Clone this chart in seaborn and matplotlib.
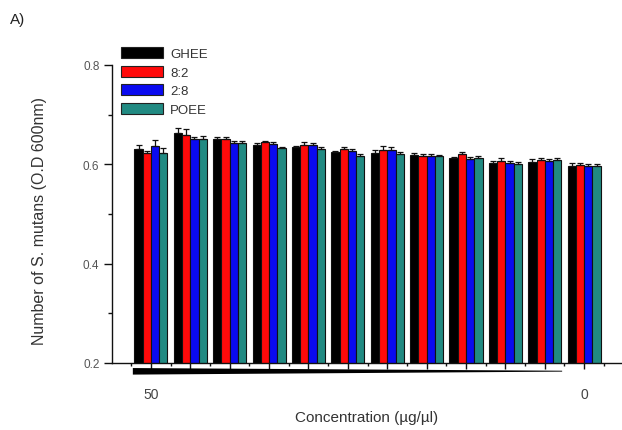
import matplotlib
matplotlib.use("Agg")
import matplotlib.pyplot as plt
import matplotlib.transforms as mtransforms
from matplotlib.patches import Polygon
from matplotlib.ticker import MultipleLocator, FixedLocator
import numpy as np
import pandas as pd
import seaborn as sns

# ---- data ----
groups = ["c%d" % i for i in range(1, 13)]
tick_labels = ["50", "", "", "", "", "", "", "", "", "", "", "0"]
series = ["GHEE", "8:2", "2:8", "POEE"]
ghee = [0.631, 0.663, 0.650, 0.639, 0.634, 0.624, 0.623, 0.619, 0.612, 0.603, 0.604, 0.596]
r82 = [0.622, 0.660, 0.651, 0.644, 0.639, 0.631, 0.629, 0.617, 0.621, 0.607, 0.609, 0.599]
r28 = [0.636, 0.651, 0.642, 0.640, 0.639, 0.627, 0.629, 0.617, 0.611, 0.602, 0.607, 0.597]
poee = [0.622, 0.651, 0.642, 0.633, 0.631, 0.617, 0.620, 0.616, 0.612, 0.601, 0.609, 0.597]
err_ghee = [0.008, 0.010, 0.004, 0.003, 0.003, 0.002, 0.005, 0.004, 0.003, 0.004, 0.007, 0.006]
err_r82 = [0.005, 0.012, 0.004, 0.002, 0.005, 0.004, 0.007, 0.004, 0.003, 0.005, 0.004, 0.003]
err_r28 = [0.012, 0.005, 0.005, 0.004, 0.004, 0.004, 0.006, 0.004, 0.003, 0.005, 0.004, 0.004]
err_poee = [0.010, 0.006, 0.005, 0.002, 0.003, 0.004, 0.004, 0.003, 0.005, 0.004, 0.004, 0.004]
colors = ["#000000", "#ff0a0a", "#0a0af0", "#218a82"]

values = [ghee, r82, r28, poee]
errors = [err_ghee, err_r82, err_r28, err_poee]
df = pd.DataFrame({
    "group": np.repeat([groups], 4, axis=0).ravel(),
    "series": np.repeat(series, len(groups)),
    "value": np.concatenate(values),
})

sns.set_style("ticks")
plt.rcParams["font.family"] = ["Liberation Sans", "DejaVu Sans"]

fig = plt.figure(figsize=(6.22, 4.31), dpi=100)
ax = fig.add_axes([0.180, 0.1555, 0.82, 0.6914])

sns.barplot(data=df, x="group", y="value", hue="series", order=groups,
            hue_order=series, palette=colors, width=0.84, gap=0,
            edgecolor="#111111", linewidth=0.8, saturation=1,
            errorbar=None, legend=False, ax=ax)

for cont, err in zip(ax.containers, errors):
    xs = [p.get_x() + p.get_width() / 2 for p in cont.patches]
    hs = [p.get_height() for p in cont.patches]
    ax.errorbar(xs, hs, yerr=[np.zeros(len(err)), err], fmt="none",
                ecolor="#111111", elinewidth=0.9, capsize=2.5, capthick=0.9)

ax.set_ylim(0.2, 0.8)
ax.set_xlim(-0.99, 11.96)
ax.yaxis.set_major_locator(MultipleLocator(0.2))
ax.yaxis.set_minor_locator(MultipleLocator(0.1))
ax.yaxis.set_major_formatter(matplotlib.ticker.FormatStrFormatter("%.1f"))
ax.set_xticks(range(len(groups)))
ax.set_xticklabels(tick_labels)
ax.xaxis.set_minor_locator(FixedLocator(np.arange(-0.5, 12, 1.0)))

for s in ["top", "right"]:
    ax.spines[s].set_visible(False)
for s in ["left", "bottom"]:
    ax.spines[s].set_linewidth(1.0)
    ax.spines[s].set_color("#111111")

ax.tick_params(axis="y", which="major", direction="out", length=6, width=1,
               labelsize=8.5, labelcolor="#555555", pad=3, color="#111111")
ax.tick_params(axis="y", which="minor", direction="out", length=3, width=1,
               color="#111111")
ax.tick_params(axis="x", which="major", direction="out", length=4, width=1,
               labelsize=10, labelcolor="#444444", pad=13, color="#111111")
ax.tick_params(axis="x", which="minor", direction="out", length=2.5, width=1,
               color="#111111")

ax.set_ylabel("Number of S. mutans (O.D 600nm)", fontsize=11.5, color="#333333")
ax.yaxis.set_label_coords(-0.127, 0.48)
ax.set_xlabel("Concentration (µg/µl)", fontsize=11, color="#333333")
ax.xaxis.set_label_coords(0.5, -0.158)

# concentration gradient wedge
trans = mtransforms.blended_transform_factory(ax.transData, ax.transAxes)
wedge = Polygon([(-0.46, -0.017), (10.44, -0.026), (10.44, -0.029), (-0.46, -0.039)],
                closed=True, facecolor="black", edgecolor="none",
                transform=trans, clip_on=False)
ax.add_patch(wedge)

handles = [matplotlib.patches.Patch(facecolor=c, edgecolor="#222222", linewidth=0.8)
           for c in colors]
fig.legend(handles, series, loc="upper left", bbox_to_anchor=(0.194, 0.888),
           frameon=False, fontsize=9.5, handlelength=3.2, handleheight=0.9,
           labelspacing=0.42, handletextpad=0.55, borderpad=0, borderaxespad=0,
           labelcolor="#333333")

fig.text(0.016, 0.953, "A)", fontsize=11, color="#222222", va="center")

fig.savefig("out.png", dpi=100)
